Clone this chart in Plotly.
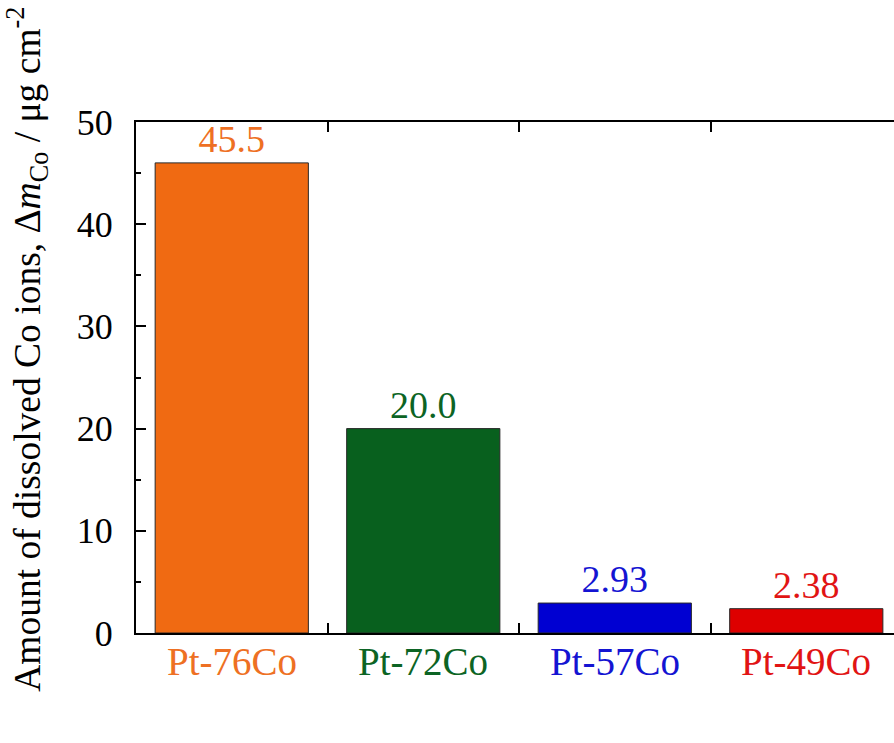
import plotly.graph_objects as go

categories = ["Pt-76Co", "Pt-72Co", "Pt-57Co", "Pt-49Co"]
bar_heights = [46.0, 20.0, 2.93, 2.38]
value_labels = ["45.5", "20.0", "2.93", "2.38"]
bar_colors = ["rgb(240,106,18)", "rgb(8,96,30)", "rgb(0,0,210)", "rgb(222,0,0)"]
label_colors = ["rgb(238,112,35)", "rgb(12,100,36)", "rgb(20,20,210)", "rgb(225,20,20)"]
y_ticks = [0, 10, 20, 30, 40, 50]

FONT = "Liberation Serif"

fig = go.Figure()
fig.add_trace(go.Bar(
    x=categories, y=bar_heights,
    marker=dict(color=bar_colors, line=dict(color="rgb(40,40,40)", width=1)),
    text=value_labels, textposition="outside",
    textfont=dict(family=FONT, size=38, color=label_colors),
    cliponaxis=False, showlegend=False, hoverinfo="skip",
))

fig.update_layout(
    width=894, height=743,
    margin=dict(l=136, r=0, t=122, b=110),
    paper_bgcolor="white", plot_bgcolor="white",
    bargap=0.2,
    font=dict(family=FONT, size=36, color="black"),
    xaxis=dict(
        type="category", range=[-0.5, 3.458],
        tickson="boundaries", ticks="inside", ticklen=10, tickwidth=2, tickcolor="black",
        showline=True, linewidth=2, linecolor="black", mirror="ticks",
        showgrid=False, zeroline=False, showticklabels=False,
    ),
    yaxis=dict(
        range=[0, 50], tickvals=y_ticks, ticks="inside", ticklen=10, tickwidth=2, tickcolor="black",
        minor=dict(ticks="inside", ticklen=5, tickwidth=2, tickcolor="black", dtick=5, showgrid=False),
        showline=True, linewidth=2, linecolor="black", mirror=False,
        showgrid=False, zeroline=False,
        tickfont=dict(family=FONT, size=36),
        ticklabelstandoff=14,
    ),
    yaxis2=dict(
        range=[0, 50], overlaying="y", side="right", tickvals=y_ticks,
        ticks="inside", ticklen=8, tickwidth=2, tickcolor="black",
        minor=dict(ticks="inside", ticklen=3, tickwidth=2, tickcolor="black", dtick=5, showgrid=False),
        showline=False, showgrid=False, zeroline=False, showticklabels=False,
    ),
)

# category labels (coloured), placed just below the x axis
for cat, col in zip(categories, label_colors):
    fig.add_annotation(
        text=cat, x=cat, y=0, xref="x", yref="y",
        xanchor="center", yanchor="top", yshift=-5, showarrow=False,
        font=dict(family=FONT, size=39, color=col),
    )

fig.add_annotation(
    text="Amount of dissolved Co ions, Δ<i>m</i><sub>Co</sub> / μg cm<sup>-2</sup>",
    xref="paper", yref="paper", x=-0.1425, y=0.556,
    xanchor="center", yanchor="middle", textangle=-90, showarrow=False,
    font=dict(family=FONT, size=37.5, color="black"),
)

fig.write_html("out.html")
